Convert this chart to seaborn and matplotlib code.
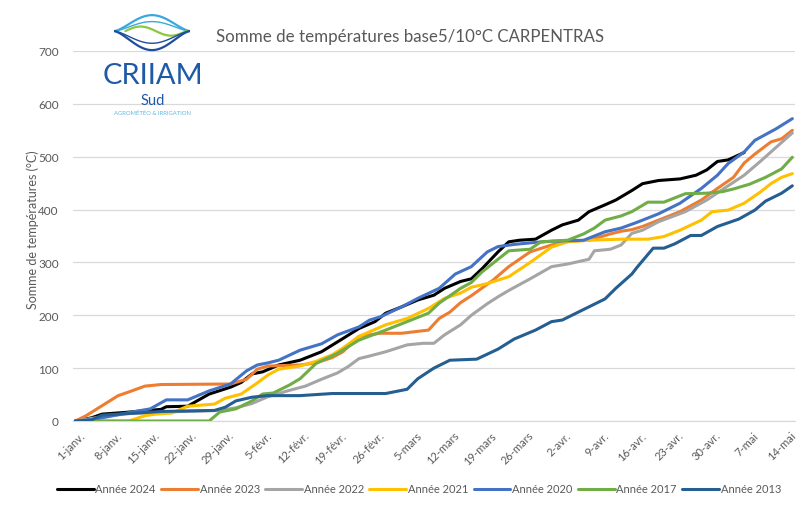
import numpy as np
import pandas as pd
import matplotlib
matplotlib.use("Agg")
import matplotlib.pyplot as plt
import matplotlib.transforms as mtransforms
from matplotlib.lines import Line2D
import seaborn as sns

# ---------------- data ----------------
tick_labels = ["1-janv.", "8-janv.", "15-janv.", "22-janv.", "29-janv.", "5-févr.",
               "12-févr.", "19-févr.", "26-févr.", "5-mars", "12-mars", "19-mars",
               "26-mars", "2-avr.", "9-avr.", "16-avr.", "23-avr.", "30-avr.",
               "7-mai", "14-mai"]

series_names = ["Année 2024", "Année 2023", "Année 2022", "Année 2021",
                "Année 2020", "Année 2017", "Année 2013"]
series_colors = ["#000000", "#ed7d31", "#a5a5a5", "#ffc000",
                 "#4472c4", "#70ad47", "#255e91"]

days_2024 = [0, 3, 5, 9, 16, 17, 21, 25, 29, 31, 33, 35, 38, 42, 46, 50, 53, 56, 58, 61,
             64, 67, 69, 72, 74, 76, 79, 81, 83, 86, 89, 91, 94, 96, 99, 101, 104, 106,
             109, 113, 116, 118, 120, 122, 125]
vals_2024 = [0, 6, 13, 16, 22, 27, 28, 51, 64, 73, 89, 93, 106, 115, 131, 156, 175, 188, 204, 216,
             229, 238, 251, 264, 269, 288, 320, 339, 342, 344, 361, 371, 380, 396, 409, 418, 436, 449,
             455, 458, 465, 475, 491, 494, 508]

days_2023 = [0, 2, 5, 8, 10, 13, 16, 29, 32, 34, 36, 42, 45, 48, 50, 53, 57, 61, 66, 68,
             70, 72, 74, 78, 81, 85, 89, 92, 96, 100, 102, 104, 106, 109, 113, 117, 120, 123,
             125, 127, 130, 132, 134]
vals_2023 = [0, 10, 29, 48, 55, 66, 69, 70, 79, 98, 104, 106, 110, 120, 131, 160, 166, 166, 172, 194,
             206, 224, 237, 266, 292, 320, 333, 340, 342, 354, 359, 362, 368, 380, 396, 418, 440, 461,
             488, 505, 528, 534, 550]

days_2022 = [0, 5, 10, 20, 27, 30, 33, 36, 40, 43, 46, 49, 51, 53, 55, 58, 62, 65, 67, 69,
             72, 74, 77, 79, 81, 85, 89, 92, 96, 97, 100, 102, 104, 106, 109, 114, 118, 122,
             125, 128, 131, 134]
vals_2022 = [0, 8, 14, 18, 20, 25, 33, 46, 58, 66, 79, 91, 103, 118, 123, 131, 144, 147, 147, 163,
             182, 200, 222, 235, 247, 269, 292, 297, 306, 322, 325, 333, 355, 361, 377, 396, 418, 445,
             465, 491, 518, 545]

days_2021 = [0, 10, 13, 15, 18, 21, 26, 28, 31, 34, 36, 38, 42, 45, 48, 50, 53, 58, 62, 66,
             69, 72, 74, 77, 81, 85, 89, 92, 96, 102, 107, 110, 113, 117, 119, 122, 125, 128,
             130, 132, 134]
vals_2021 = [0, 0, 10, 13, 15, 28, 32, 43, 51, 72, 87, 98, 104, 113, 125, 138, 160, 182, 194, 213,
             232, 242, 253, 260, 273, 300, 329, 339, 342, 344, 344, 349, 361, 380, 396, 399, 412, 433,
             449, 461, 468]

days_2020 = [0, 3, 7, 10, 14, 17, 21, 25, 29, 32, 34, 36, 38, 42, 46, 49, 53, 55, 57, 61,
             64, 68, 71, 74, 77, 79, 82, 86, 89, 95, 99, 102, 105, 109, 113, 117, 120, 122,
             125, 127, 131, 134]
vals_2020 = [0, 2, 10, 16, 23, 40, 40, 57, 70, 95, 106, 110, 115, 134, 146, 163, 178, 191, 197, 216,
             232, 251, 278, 292, 320, 330, 334, 338, 340, 342, 358, 365, 376, 392, 412, 440, 465, 487,
             509, 531, 553, 572]

days_2017 = [0, 25, 27, 30, 33, 35, 37, 40, 42, 45, 49, 53, 58, 62, 66, 68, 72, 74, 76, 79,
             81, 85, 87, 92, 95, 97, 99, 102, 104, 107, 110, 114, 118, 121, 123, 126, 129, 132,
             134]
vals_2017 = [0, 0, 17, 23, 38, 51, 53, 68, 80, 109, 128, 153, 172, 188, 204, 223, 251, 262, 282, 306,
             322, 325, 339, 342, 354, 365, 380, 388, 396, 414, 414, 430, 431, 434, 439, 448, 461, 477,
             499]

days_2013 = [0, 3, 5, 8, 13, 16, 26, 28, 30, 33, 36, 42, 48, 58, 62, 64, 67, 70, 75, 79,
             82, 86, 89, 91, 94, 96, 99, 101, 104, 105, 108, 110, 112, 115, 117, 120, 124, 127,
             129, 132, 134]
vals_2013 = [0, 2, 11, 13, 16, 18, 20, 26, 38, 45, 48, 48, 52, 52, 60, 80, 100, 115, 117, 136,
             155, 172, 188, 191, 206, 216, 231, 251, 278, 291, 327, 327, 335, 351, 351, 368, 382, 399,
             416, 431, 445]

all_days = [days_2024, days_2023, days_2022, days_2021, days_2020, days_2017, days_2013]
all_vals = [vals_2024, vals_2023, vals_2022, vals_2021, vals_2020, vals_2017, vals_2013]

frames = []
for name, d, v in zip(series_names, all_days, all_vals):
    frames.append(pd.DataFrame({"jour": d, "somme": v, "serie": name}))
df = pd.concat(frames, ignore_index=True)

# ---------------- style ----------------
sns.set_style("white")
plt.rcParams["font.family"] = ["Lato", "DejaVu Sans"]
GRAY = "#595959"

fig = plt.figure(figsize=(8.06, 5.06), dpi=100)
W, H = 806, 506
ax = fig.add_axes([72.7 / W, 1 - 422 / H, (795 - 72.7) / W, (422 - 52) / H])

palette = dict(zip(series_names, series_colors))
for i, name in enumerate(series_names):
    sns.lineplot(data=df[df["serie"] == name], x="jour", y="somme", color=palette[name],
                 linewidth=2.2, ax=ax, estimator=None, sort=False, zorder=3 + i,
                 legend=False)

ax.set_xlim(-0.5, 134.5)
ax.set_ylim(0, 700)
ax.set_yticks(np.arange(0, 701, 100))
ax.set_xticks([7 * k - 0.5 for k in range(len(tick_labels))])
ax.set_xticklabels(tick_labels)
ax.grid(axis="y", color="#d9d9d9", linewidth=0.9, zorder=0)
ax.set_axisbelow(True)
for s in ["top", "right", "left"]:
    ax.spines[s].set_visible(False)
ax.spines["bottom"].set_color("#d9d9d9")
ax.spines["bottom"].set_linewidth(0.9)
ax.tick_params(axis="x", length=4, color="#d9d9d9", labelsize=8, labelcolor=GRAY, pad=2)
ax.tick_params(axis="y", length=0, labelsize=8.5, labelcolor=GRAY, pad=10)
offset = mtransforms.ScaledTranslation(6 / 100, 0, fig.dpi_scale_trans)
for lab in ax.get_xticklabels():
    lab.set_rotation(45)
    lab.set_ha("right")
    lab.set_va("top")
    lab.set_rotation_mode("anchor")
    lab.set_transform(lab.get_transform() + offset)

ax.set_xlabel("")
ax.set_ylabel("")
fig.text(33 / W, 1 - 230 / H, "Somme de températures (°C)", rotation=90,
         ha="center", va="center", fontsize=9, color=GRAY)

# title
fig.text(410 / W, 1 - 37 / H, "Somme de températures base5/10°C CARPENTRAS",
         ha="center", va="center", fontsize=12.2, color=GRAY)

# legend
handles = [Line2D([0], [0], color=c, linewidth=2.2) for c in series_colors]
fig.legend(handles, series_names, loc="center", bbox_to_anchor=(419 / W, 1 - 490 / H),
           ncol=7, frameon=False, fontsize=8, handlelength=3.3, handletextpad=0.15,
           columnspacing=0.5, labelcolor=GRAY)

# logo (decoration)
lax = fig.add_axes([114 / W, 1 - 53 / H, 76 / W, 38 / H])
lax.set_xlim(0, 1)
lax.set_ylim(0, 1)
lax.axis("off")
t = np.linspace(0, 1, 100)
lax.plot(t, 0.55 + 0.42 * np.sin(np.pi * t) ** 1.5, color="#3aa8dc", lw=1.6)
lax.plot(t, 0.55 + 0.25 * np.sin(np.pi * t) ** 1.5, color="#3aa8dc", lw=1.0)
lax.plot(0.15 + 0.8 * t, 0.55 + 0.12 * np.sin(2 * np.pi * t), color="#8dc63f", lw=1.6)
lax.plot(t, 0.55 - 0.5 * np.sin(np.pi * t) ** 1.5, color="#1f4e9c", lw=1.6)
lax.plot(t, 0.55 - 0.32 * np.sin(np.pi * t) ** 1.5, color="#1f4e9c", lw=1.0)
fig.text(153 / W, 1 - 84 / H, "CRIIAM", ha="center", va="baseline", fontsize=21,
         color="#1f5aa6")
fig.text(153 / W, 1 - 105 / H, "Sud", ha="center", va="baseline", fontsize=10.5,
         color="#1f5aa6")
fig.text(153 / W, 1 - 113 / H, "AGROMÉTÉO & IRRIGATION", ha="center", va="center",
         fontsize=4.2, color="#5bb8e0")

fig.savefig("out.png", dpi=100)
